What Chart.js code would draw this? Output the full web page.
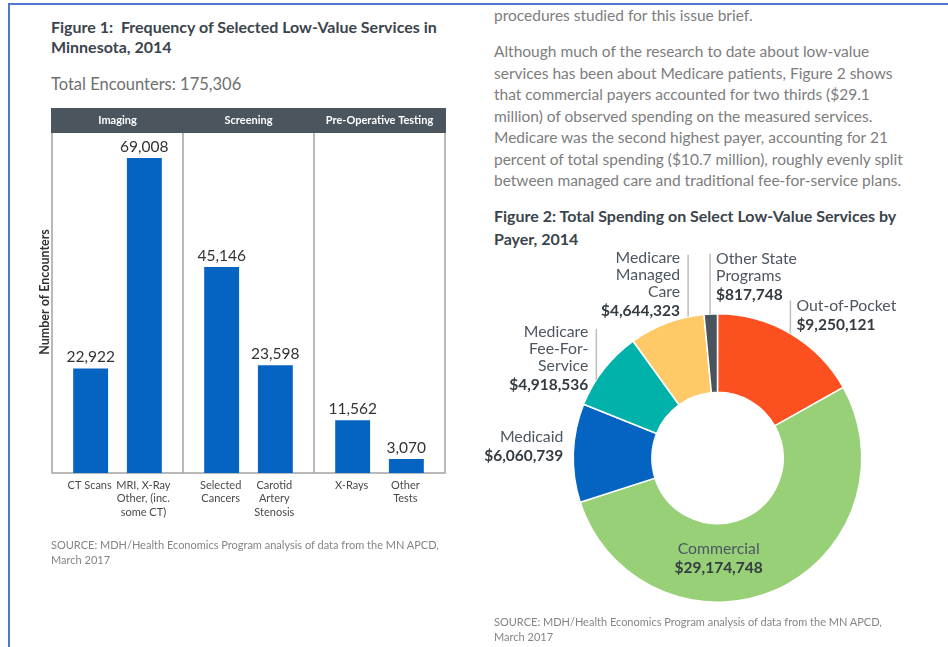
<!DOCTYPE html>
<html>
<head>
<meta charset="utf-8">
<script src="https://cdn.jsdelivr.net/npm/chart.js"></script>
<style>
  body { margin: 0; width: 948px; height: 647px; background: #fff; position: relative; overflow: hidden; font-family: Lato, "Open Sans", sans-serif; }
  .frame { position: absolute; left: 8px; top: 3px; right: 0; bottom: 0; border-top: 2px solid #4f78cc; border-left: 2px solid #4f78cc; }
  .txt { position: absolute; white-space: nowrap; }
  .title { font-weight: bold; font-size: 16px; line-height: 20px; color: #3b444c; }
  .para { font-size: 15.5px; line-height: 21.5px; color: #7d7d7d; }
  .src { font-size: 11px; line-height: 15px; color: #858585; }
  canvas { position: absolute; }
</style>
</head>
<body>
<div class="frame"></div>

<div class="txt title" style="left:51px; top:17px;">Figure 1:&nbsp; Frequency of Selected Low-Value Services in<br>Minnesota, 2014</div>
<div class="txt para" style="left:51px; top:74px; font-size:16.5px; color:#6f6f6f;">Total Encounters: 175,306</div>
<canvas id="barChart" width="470" height="440" style="left:0; top:100px;"></canvas>
<div class="txt src" style="left:51px; top:537px;">SOURCE: MDH/Health Economics Program analysis of data from the MN APCD,<br>March 2017</div>

<div class="txt para" style="left:494px; top:5px;">procedures studied for this issue brief.</div>
<div class="txt para" style="left:494px; top:41px;">Although much of the research to date about low-value<br>services has been about Medicare patients, Figure 2 shows<br>that commercial payers accounted for two thirds ($29.1<br>million) of observed spending on the measured services.<br>Medicare was the second highest payer, accounting for 21<br>percent of total spending ($10.7 million), roughly evenly split<br>between managed care and traditional fee-for-service plans.</div>
<div class="txt title" style="left:494px; top:204px; line-height:23px;">Figure 2: Total Spending on Select Low-Value Services by<br>Payer, 2014</div>
<canvas id="donutChart" width="468" height="380" style="left:480px; top:245px;"></canvas>
<div class="txt src" style="left:494px; top:614px;">SOURCE: MDH/Health Economics Program analysis of data from the MN APCD,<br>March 2017</div>

<script>
// Figure 1 data
const groups = ['Imaging', 'Screening', 'Pre-Operative Testing'];
const services = [['CT Scans'], ['MRI, X-Ray', 'Other, (inc.', 'some CT)'], ['Selected', 'Cancers'], ['Carotid', 'Artery', 'Stenosis'], ['X-Rays'], ['Other', 'Tests']];
const encounters = [22922, 69008, 45146, 23598, 11562, 3070];

// Figure 2 data
const payers = [['Out-of-Pocket'], ['Commercial'], ['Medicaid'], ['Medicare', 'Fee-For-', 'Service'], ['Medicare', 'Managed', 'Care'], ['Other State', 'Programs']];
const spending = [9250121, 29174748, 6060739, 4918536, 4644323, 817748];
const payerColors = ['#fc5020', '#97d077', '#0563c1', '#00b2a9', '#fec966', '#4a545c'];

const fmt = v => v.toLocaleString('en-US');
const font = "Lato, 'Open Sans', sans-serif";

// two bars per group: first and second service of each group
const leftBars = groups.map((g, i) => encounters[i * 2]);
const rightBars = groups.map((g, i) => encounters[i * 2 + 1]);

const barDecor = {
  id: 'barDecor',
  beforeDatasetsDraw(chart) {
    const c = chart.ctx, a = chart.chartArea;
    c.save();
    // header band
    c.fillStyle = '#4b555d';
    c.fillRect(a.left - 1, a.top - 25, a.right - a.left + 2, 25);
    c.fillStyle = '#fff';
    c.font = 'bold 11px ' + font;
    c.textAlign = 'center';
    c.textBaseline = 'middle';
    const xs = chart.scales.x;
    groups.forEach((g, i) => c.fillText(g, xs.getPixelForValue(i), a.top - 12.5));
    // box and separators
    c.strokeStyle = '#a3a3a3';
    c.lineWidth = 1.5;
    c.beginPath();
    c.moveTo(a.left, a.top); c.lineTo(a.left, a.bottom); c.lineTo(a.right, a.bottom); c.lineTo(a.right, a.top);
    const step = (a.right - a.left) / groups.length;
    for (let i = 1; i < groups.length; i++) {
      c.moveTo(a.left + step * i, a.top); c.lineTo(a.left + step * i, a.bottom);
    }
    c.stroke();
    c.restore();
  },
  afterDatasetsDraw(chart) {
    const c = chart.ctx, a = chart.chartArea;
    c.save();
    c.textAlign = 'center';
    chart.data.datasets.forEach((ds, d) => {
      chart.getDatasetMeta(d).data.forEach((bar, i) => {
        const idx = i * 2 + d;
        c.fillStyle = '#333';
        c.font = '15.5px ' + font;
        c.textBaseline = 'alphabetic';
        c.fillText(fmt(encounters[idx]), bar.x, bar.y - 6);
        c.fillStyle = '#4a4a4a';
        c.font = '11px ' + font;
        c.textBaseline = 'middle';
        services[idx].forEach((line, k) => c.fillText(line, bar.x - 1, a.bottom + 12 + k * 13.5));
      });
    });
    // y axis title
    c.translate(a.left - 7, (a.top + a.bottom) / 2 - 11);
    c.rotate(-Math.PI / 2);
    c.fillStyle = '#333';
    c.font = 'bold 12.5px ' + font;
    c.textBaseline = 'middle';
    c.fillText('Number of Encounters', 0, 0);
    c.restore();
  }
};

new Chart(document.getElementById('barChart'), {
  type: 'bar',
  data: {
    labels: groups,
    datasets: [
      { data: leftBars, backgroundColor: '#0563c1' },
      { data: rightBars, backgroundColor: '#0563c1' }
    ]
  },
  options: {
    responsive: false,
    animation: false,
    categoryPercentage: 0.82,
    barPercentage: 0.65,
    layout: { padding: { left: 52, right: 25, top: 33, bottom: 67 } },
    scales: {
      x: { display: false },
      y: { display: false, min: 0, max: 74500 }
    },
    plugins: { legend: { display: false }, tooltip: { enabled: false } }
  },
  plugins: [barDecor]
});

// where each payer label hangs off its slice
const labelPlace = [
  { frac: 0.5, side: 'left', leader: 33 },
  { frac: 0.62, side: 'inside' },
  { frac: 0.5, side: 'plain' },
  { frac: 0.34, side: 'right', leader: 51 },
  { frac: 0.79, side: 'right', leader: 62 },
  { frac: 0.45, side: 'left', leader: 60 }
];

const donutLabels = {
  id: 'donutLabels',
  afterDraw(chart) {
    const c = chart.ctx;
    c.save();
    c.textBaseline = 'middle';
    chart.getDatasetMeta(0).data.forEach((arc, i) => {
      const p = labelPlace[i];
      const ang = arc.startAngle + p.frac * (arc.endAngle - arc.startAngle);
      const r = p.side === 'inside' ? (arc.innerRadius + arc.outerRadius) / 2 : arc.outerRadius;
      const px = arc.x + Math.cos(ang) * r, py = arc.y + Math.sin(ang) * r;
      const lines = payers[i];
      let tx, ty;
      if (p.side === 'left' || p.side === 'right') {
        const top = py - p.leader;
        c.strokeStyle = '#bdbdbd';
        c.lineWidth = 1.5;
        c.beginPath(); c.moveTo(px, py); c.lineTo(px, top); c.stroke();
        c.textAlign = p.side === 'left' ? 'left' : 'right';
        tx = p.side === 'left' ? px + 6 : px - 8;
        ty = top + (p.side === 'left' ? 5 : 3);
      } else if (p.side === 'plain') {
        c.textAlign = 'right';
        tx = px - 10; ty = py - 16;
      } else {
        c.textAlign = 'center';
        tx = px; ty = py - 14;
      }
      c.fillStyle = '#4d5660';
      c.font = '15.8px ' + font;
      lines.forEach((line, k) => c.fillText(line, tx, ty + k * 17));
      c.fillStyle = '#343b41';
      c.font = 'bold 15.5px ' + font;
      c.fillText('$' + fmt(spending[i]), tx, ty + (lines.length - 1) * 17 + 19.5);
    });
    c.restore();
  }
};

new Chart(document.getElementById('donutChart'), {
  type: 'doughnut',
  data: {
    labels: payers.map(l => l.join(' ')),
    datasets: [{ data: spending, backgroundColor: payerColors, borderColor: '#fff', borderWidth: 1.5 }]
  },
  options: {
    responsive: false,
    animation: false,
    cutout: '45.5%',
    layout: { padding: { left: 92.5, right: 85.5, top: 68, bottom: 22 } },
    plugins: { legend: { display: false }, tooltip: { enabled: false } }
  },
  plugins: [donutLabels]
});
</script>
</body>
</html>
